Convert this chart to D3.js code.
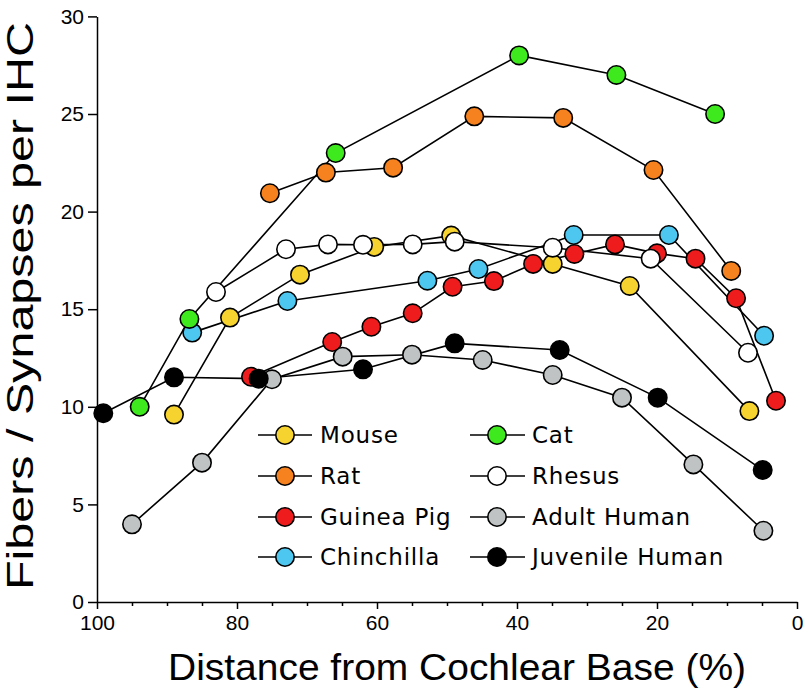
<!DOCTYPE html>
<html>
<head>
<meta charset="utf-8">
<script src="https://cdn.jsdelivr.net/npm/d3@7"></script>
<style>
  html, body { margin: 0; padding: 0; background: #fff; }
  svg { display: block; }
</style>
</head>
<body>
<svg id="chart" width="809" height="699"></svg>
<script>
// ---- data (distance from base %, fibers/synapses per IHC) ----
const seriesNames = ["Mouse", "Rat", "Guinea Pig", "Chinchilla", "Cat", "Rhesus", "Adult Human", "Juvenile Human"];
const seriesColors = ["#F6D32E", "#F5821F", "#EE1C1C", "#4DC7F0", "#3EEA1E", "#FFFFFF", "#BFC3C3", "#000000"];

const mouse = [[89.0, 9.6], [81.0, 14.57], [71.0, 16.77], [60.4, 18.19], [49.4, 18.77], [34.9, 17.32], [23.9, 16.19], [6.8, 9.78]];
const rat = [[75.3, 20.94], [67.3, 22.0], [57.7, 22.25], [46.1, 24.88], [33.4, 24.8], [20.5, 22.13], [9.4, 16.96]];
const guineaPig = [[78.0, 11.54], [66.4, 13.32], [60.8, 14.1], [54.9, 14.79], [49.2, 16.15], [43.3, 16.44], [37.7, 17.32], [31.8, 17.83], [26.0, 18.32], [20.0, 17.86], [14.5, 17.59], [8.7, 15.56], [3.0, 10.31]];
const chinchilla = [[86.4, 13.8], [72.8, 15.42], [52.8, 16.46], [45.5, 17.06], [31.9, 18.8], [18.3, 18.8], [4.7, 13.64]];
const cat = [[93.9, 10.0], [86.8, 14.5], [65.9, 23.0], [39.7, 28.0], [25.8, 27.0], [11.7, 25.0]];
const rhesus = [[83.0, 15.88], [73.0, 18.07], [67.0, 18.32], [62.0, 18.3], [54.9, 18.32], [48.9, 18.46], [34.9, 18.15], [20.9, 17.59], [7.0, 12.77]];
const adultHuman = [[95.0, 3.98], [85.0, 7.14], [75.0, 11.41], [64.9, 12.57], [55.0, 12.67], [44.9, 12.4], [34.9, 11.63], [25.0, 10.47], [14.8, 7.05], [4.8, 3.65]];
const juvenileHuman = [[99.1, 9.67], [89.0, 11.51], [76.9, 11.44], [62.0, 11.92], [48.9, 13.25], [33.9, 12.91], [19.9, 10.47], [4.9, 6.76]];

const seriesData = [mouse, rat, guineaPig, chinchilla, cat, rhesus, adultHuman, juvenileHuman];

const xTicks = [100, 80, 60, 40, 20, 0];
const xMinorTicks = [95, 90, 85, 75, 70, 65, 55, 50, 45, 35, 30, 25, 15, 10, 5];
const yTicks = [0, 5, 10, 15, 20, 25, 30];

const xLabel = "Distance from Cochlear Base (%)";
const yLabel = "Fibers / Synapses per IHC";

// ---- chart ----
const svg = d3.select("#chart");
const x = d3.scaleLinear().domain([100, 0]).range([97, 797]);
const y = d3.scaleLinear().domain([0, 30]).range([602, 16.4]);

const tickFont = "'Liberation Sans', Arial, Helvetica, sans-serif";

// x axis
const xAxisG = svg.append("g").attr("transform", `translate(0,${y(0)})`);
xAxisG.call(d3.axisBottom(x).tickValues(xMinorTicks).tickSize(4).tickFormat(""))
  .call(g => g.select(".domain").remove());
xAxisG.append("g").call(d3.axisBottom(x).tickValues(xTicks).tickSize(7).tickSizeOuter(0).tickPadding(6).tickFormat(d3.format("d")));
xAxisG.selectAll("text").attr("font-size", 21).attr("font-family", tickFont).attr("fill", "#000");
xAxisG.selectAll("line, path").attr("stroke", "#000").attr("stroke-width", 1.5);

// y axis
const yAxisG = svg.append("g").attr("transform", `translate(${x(100)},0)`);
yAxisG.call(d3.axisLeft(y).tickValues(yTicks).tickSize(9).tickSizeOuter(0).tickPadding(4).tickFormat(d3.format("d")));
yAxisG.selectAll("text").attr("font-size", 21).attr("font-family", tickFont).attr("fill", "#000");
yAxisG.selectAll("line, path").attr("stroke", "#000").attr("stroke-width", 1.5);

// axis titles
svg.append("text")
  .attr("x", 457).attr("y", 680)
  .attr("text-anchor", "middle")
  .attr("font-family", tickFont)
  .attr("font-size", 37)
  .attr("textLength", 578)
  .attr("lengthAdjust", "spacingAndGlyphs")
  .text(xLabel);

svg.append("text")
  .attr("transform", "translate(33,306) rotate(-90)")
  .attr("text-anchor", "middle")
  .attr("font-family", tickFont)
  .attr("font-size", 37)
  .attr("textLength", 568)
  .attr("lengthAdjust", "spacingAndGlyphs")
  .text(yLabel);

// lines
const line = d3.line().x(d => x(d[0])).y(d => y(d[1]));
const plot = svg.append("g");
seriesData.forEach((data, i) => {
  plot.append("path")
    .attr("d", line(data))
    .attr("fill", "none")
    .attr("stroke", "#000")
    .attr("stroke-width", 1.6);
});
// points
seriesData.forEach((data, i) => {
  plot.append("g").selectAll("circle").data(data).join("circle")
    .attr("cx", d => x(d[0]))
    .attr("cy", d => y(d[1]))
    .attr("r", 9.2)
    .attr("fill", seriesColors[i])
    .attr("stroke", "#000")
    .attr("stroke-width", 1.6);
});

// legend
const legendFont = "'DejaVu Sans', 'Open Sans', sans-serif";
const legend = svg.append("g");
const cols = [{lx0: 258, cx: 285, lx1: 312, tx: 320}, {lx0: 470, cx: 497, lx1: 525, tx: 532}];
const rowY = [435, 476, 517, 557];
seriesNames.forEach((name, i) => {
  const c = cols[Math.floor(i / 4)];
  const yy = rowY[i % 4];
  const g = legend.append("g");
  g.append("line").attr("x1", c.lx0).attr("x2", c.lx1).attr("y1", yy).attr("y2", yy)
    .attr("stroke", "#000").attr("stroke-width", 1.6);
  g.append("circle").attr("cx", c.cx).attr("cy", yy).attr("r", 9.2)
    .attr("fill", seriesColors[i]).attr("stroke", "#000").attr("stroke-width", 1.6);
  g.append("text").attr("x", c.tx).attr("y", yy).attr("dy", "0.36em")
    .attr("font-family", legendFont).attr("font-size", 23)
    .attr("letter-spacing", 0.8)
    .text(name);
});
</script>
</body>
</html>
